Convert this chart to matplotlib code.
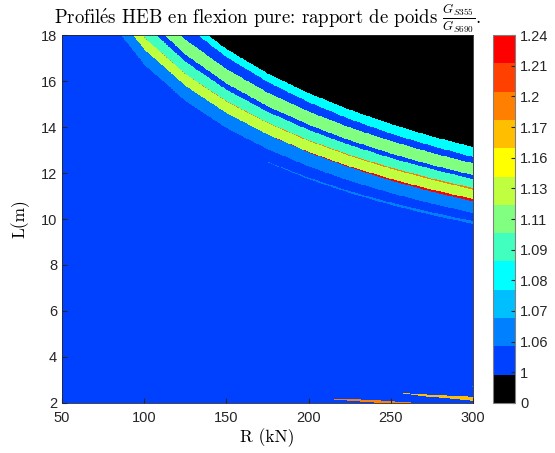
import numpy as np
import matplotlib.pyplot as plt
from matplotlib.colors import ListedColormap

plt.rcParams['mathtext.fontset'] = 'cm'
plt.rcParams['font.family'] = ['Liberation Sans', 'DejaVu Sans']

# colorbar labels and block colours (bottom to top)
levels = ['0', '1', '1.06', '1.07', '1.08', '1.09', '1.11', '1.13',
          '1.16', '1.17', '1.2', '1.21', '1.24']
band_colors = ['#000000', '#0040FF', '#0080FF', '#00BFFF', '#00FFFF',
               '#40FFBF', '#80FF80', '#BFFF40', '#FFFF00', '#FFBF00',
               '#FF8000', '#FF4000', '#FF0000']

# band edges: L (m) read along R (kN)
R_pts = [50, 75, 100, 125, 150, 175, 200, 225, 250, 275, 300]
edge_black = [27.18, 23.05, 20.51, 18.73, 17.40, 16.34, 15.48, 14.76, 14.14, 13.60, 13.13]
edge_cyan = [27.20, 22.89, 20.26, 18.43, 17.05, 15.97, 15.09, 14.35, 13.72, 13.18, 12.70]
edge_blue1 = [25.96, 21.98, 19.52, 17.81, 16.53, 15.51, 14.68, 13.99, 13.40, 12.88, 12.43]
edge_green = [25.14, 21.23, 18.83, 17.16, 15.90, 14.91, 14.10, 13.43, 12.85, 12.35, 11.91]
edge_blue2 = [24.61, 20.81, 18.48, 16.85, 15.63, 14.67, 13.88, 13.22, 12.66, 12.17, 11.74]
edge_aqua = [23.88, 20.18, 17.91, 16.32, 15.13, 14.20, 13.43, 12.79, 12.24, 11.77, 11.35]
edge_yg = [23.36, 19.65, 17.38, 15.80, 14.61, 13.68, 12.92, 12.29, 11.75, 11.28, 10.87]
edge_mid = [22.75, 19.00, 16.72, 15.14, 13.96, 13.04, 12.29, 11.66, 11.13, 10.67, 10.26]
# widths of the two red lines along the yellow-green band
red_top_w = [0, 0, 0.01, 0.015, 0.02, 0.025, 0.03, 0.04, 0.05, 0.06, 0.07]
red_bot_w = [0, 0, 0, 0, 0, 0, 0.02, 0.04, 0.07, 0.09, 0.10]

# thin streaks: R, L centre, half width
thin_R = [175, 200, 225, 250, 275, 300]
thin_L = [12.48, 11.77, 11.17, 10.67, 10.23, 9.85]
thin_w = [0.01, 0.03, 0.04, 0.05, 0.06, 0.06]
gold_R = [254, 275, 300]
gold_L = [2.43, 2.30, 2.18]
gold_w = [0.0, 0.05, 0.09]
orange_R = [212, 237, 262]
orange_L = [2.17, 2.08, 1.98]
orange_w = [0.01, 0.05, 0.04]
short_R = [286, 300]
short_L = [2.74, 2.72]
short_w = [0.01, 0.02]

R = np.linspace(50, 300, 1000)
L = np.linspace(2, 18, 800)
RR, LL = np.meshgrid(R, L)
Z = np.ones_like(RR)

def edge(vals):
    return np.interp(RR, R_pts, vals)

for vals, c in [(edge_mid, 2), (edge_yg, 7), (edge_aqua, 5), (edge_blue2, 1),
                (edge_green, 6), (edge_blue1, 1), (edge_cyan, 4), (edge_black, 0)]:
    Z[LL > edge(vals)] = c

e = edge(edge_aqua)
Z[(LL <= e) & (LL > e - edge(red_top_w))] = 10
e = edge(edge_yg)
Z[(LL <= e) & (LL > e - edge(red_bot_w))] = 12

for rs, ls, ws, c in [(thin_R, thin_L, thin_w, 2), (gold_R, gold_L, gold_w, 9),
                      (orange_R, orange_L, orange_w, 10), (short_R, short_L, short_w, 2)]:
    inside = (RR >= rs[0]) & (RR <= rs[-1])
    cen = np.interp(RR, rs, ls)
    hw = np.interp(RR, rs, ws)
    Z[inside & (np.abs(LL - cen) < hw)] = c

fig = plt.figure(figsize=(5.55, 4.53), dpi=100)
ax = fig.add_axes([0.1117, 0.1104, 0.7405, 0.8123])
cax = fig.add_axes([0.8883, 0.1104, 0.0404, 0.8123])

im = ax.imshow(Z, origin='lower', extent=[50, 300, 2, 18], aspect='auto',
               cmap=ListedColormap(band_colors), vmin=-0.5, vmax=12.5,
               interpolation='nearest')
ax.set_xticks([50, 100, 150, 200, 250, 300])
ax.set_yticks([2, 4, 6, 8, 10, 12, 14, 16, 18])
ax.tick_params(direction='in', labelsize=10.5, colors='#262626')
ax.tick_params(axis='x', pad=6)
for s in ax.spines.values():
    s.set_color('#262626')
    s.set_linewidth(0.6)

serif = ['cmr10', 'DejaVu Serif']
ax.set_title(r'$\mathrm{Profil\acute{e}s}$ HEB en flexion pure: rapport de poids '
             r'$\frac{G_{S355}}{G_{S690}}$.', fontsize=13.5, family=serif, pad=3)
ax.set_xlabel('R (kN)', fontsize=12.5, family=serif, labelpad=2)
ax.set_ylabel('L(m)', fontsize=12.5, family=serif, labelpad=8)

cb = fig.colorbar(im, cax=cax, ticks=np.linspace(-0.5, 12.5, 13))
cb.set_ticklabels(levels)
cb.ax.tick_params(direction='in', labelsize=10.5, colors='#262626', length=3)
cb.outline.set_edgecolor('#808080')

fig.savefig('out.png', dpi=100)
